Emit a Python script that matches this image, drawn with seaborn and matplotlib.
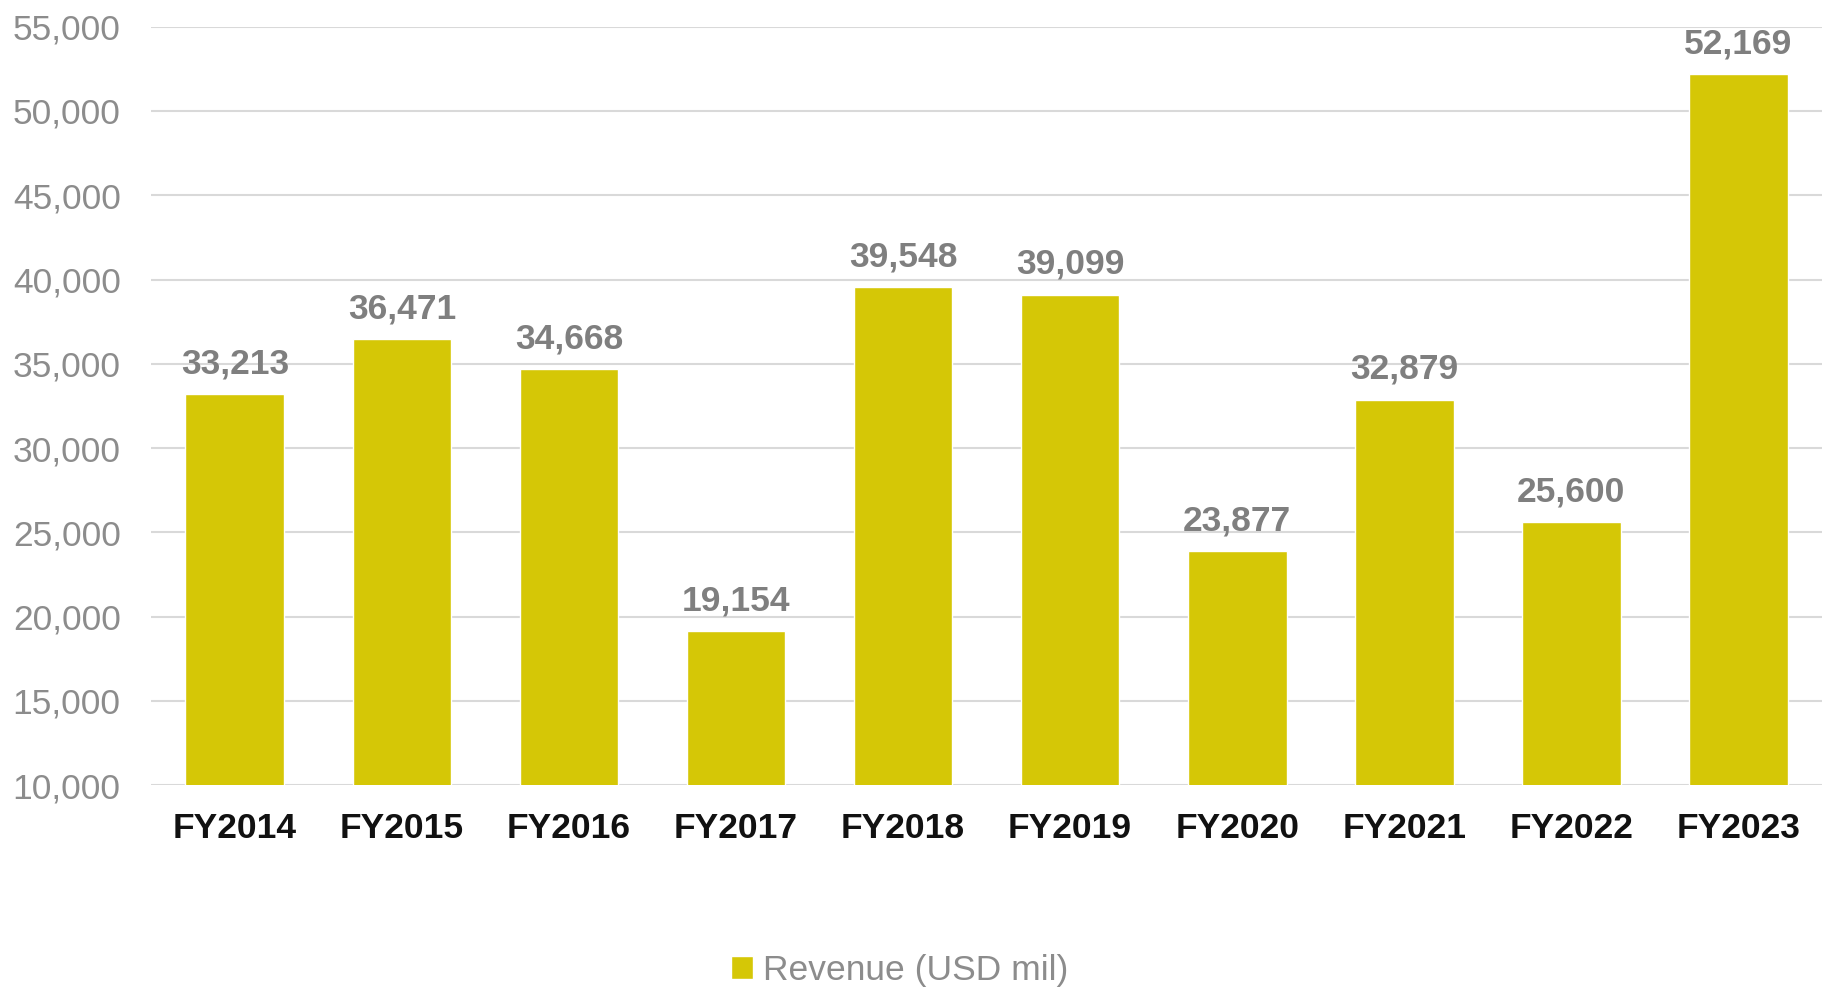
import matplotlib
matplotlib.use('Agg')
import matplotlib.pyplot as plt
import seaborn as sns
import pandas as pd
from matplotlib.ticker import FuncFormatter

# Chart data
years = ['FY2014', 'FY2015', 'FY2016', 'FY2017', 'FY2018',
         'FY2019', 'FY2020', 'FY2021', 'FY2022', 'FY2023']
revenue = [33213, 36471, 34668, 19154, 39548, 39099, 23877, 32879, 25600, 52169]
series_name = 'Revenue (USD mil)'

df = pd.DataFrame({'Year': years, 'Revenue': revenue})

sns.set_style('white')
plt.rcParams['font.family'] = ['Liberation Sans', 'DejaVu Sans']

bar_color = '#D5C706'

fig = plt.figure(figsize=(18.22, 9.89), dpi=100)
ax = fig.add_axes([0.083, 0.206, 0.917, 0.767])

sns.barplot(x='Year', y='Revenue', data=df, color=bar_color, width=0.59,
            saturation=1, label=series_name, ax=ax, zorder=3)

ax.set_ylim(10000, 55000)
ax.set_xlim(-0.5, len(years) - 0.5)
ax.set_yticks(range(10000, 55001, 5000))
ax.yaxis.set_major_formatter(FuncFormatter(lambda v, p: f'{int(v):,}'))
ax.grid(axis='y', color='#D9D9D9', linewidth=1.5, zorder=0)
ax.set_axisbelow(True)
for s in ax.spines.values():
    s.set_visible(False)

ax.tick_params(axis='y', length=0, labelsize=25.5, labelcolor='#8C8C8C', pad=22)
ax.tick_params(axis='x', length=0, labelsize=25.5, labelcolor='#111111', pad=19)
for t in ax.get_xticklabels():
    t.set_fontweight('bold')
ax.set_xlabel('')
ax.set_ylabel('')

ax.bar_label(ax.containers[0], labels=[f'{v:,}' for v in revenue],
             padding=10, fontsize=25.5, fontweight='bold', color='#7F7F7F')

if ax.get_legend():
    ax.get_legend().remove()
handles, labels = ax.get_legend_handles_labels()
fig.legend(handles, labels, loc='lower center', bbox_to_anchor=(0.494, -0.03),
           frameon=False, fontsize=25.5, labelcolor='#8C8C8C',
           handlelength=0.6, handleheight=0.6, handletextpad=0.3)

fig.savefig('out.png', dpi=100)
